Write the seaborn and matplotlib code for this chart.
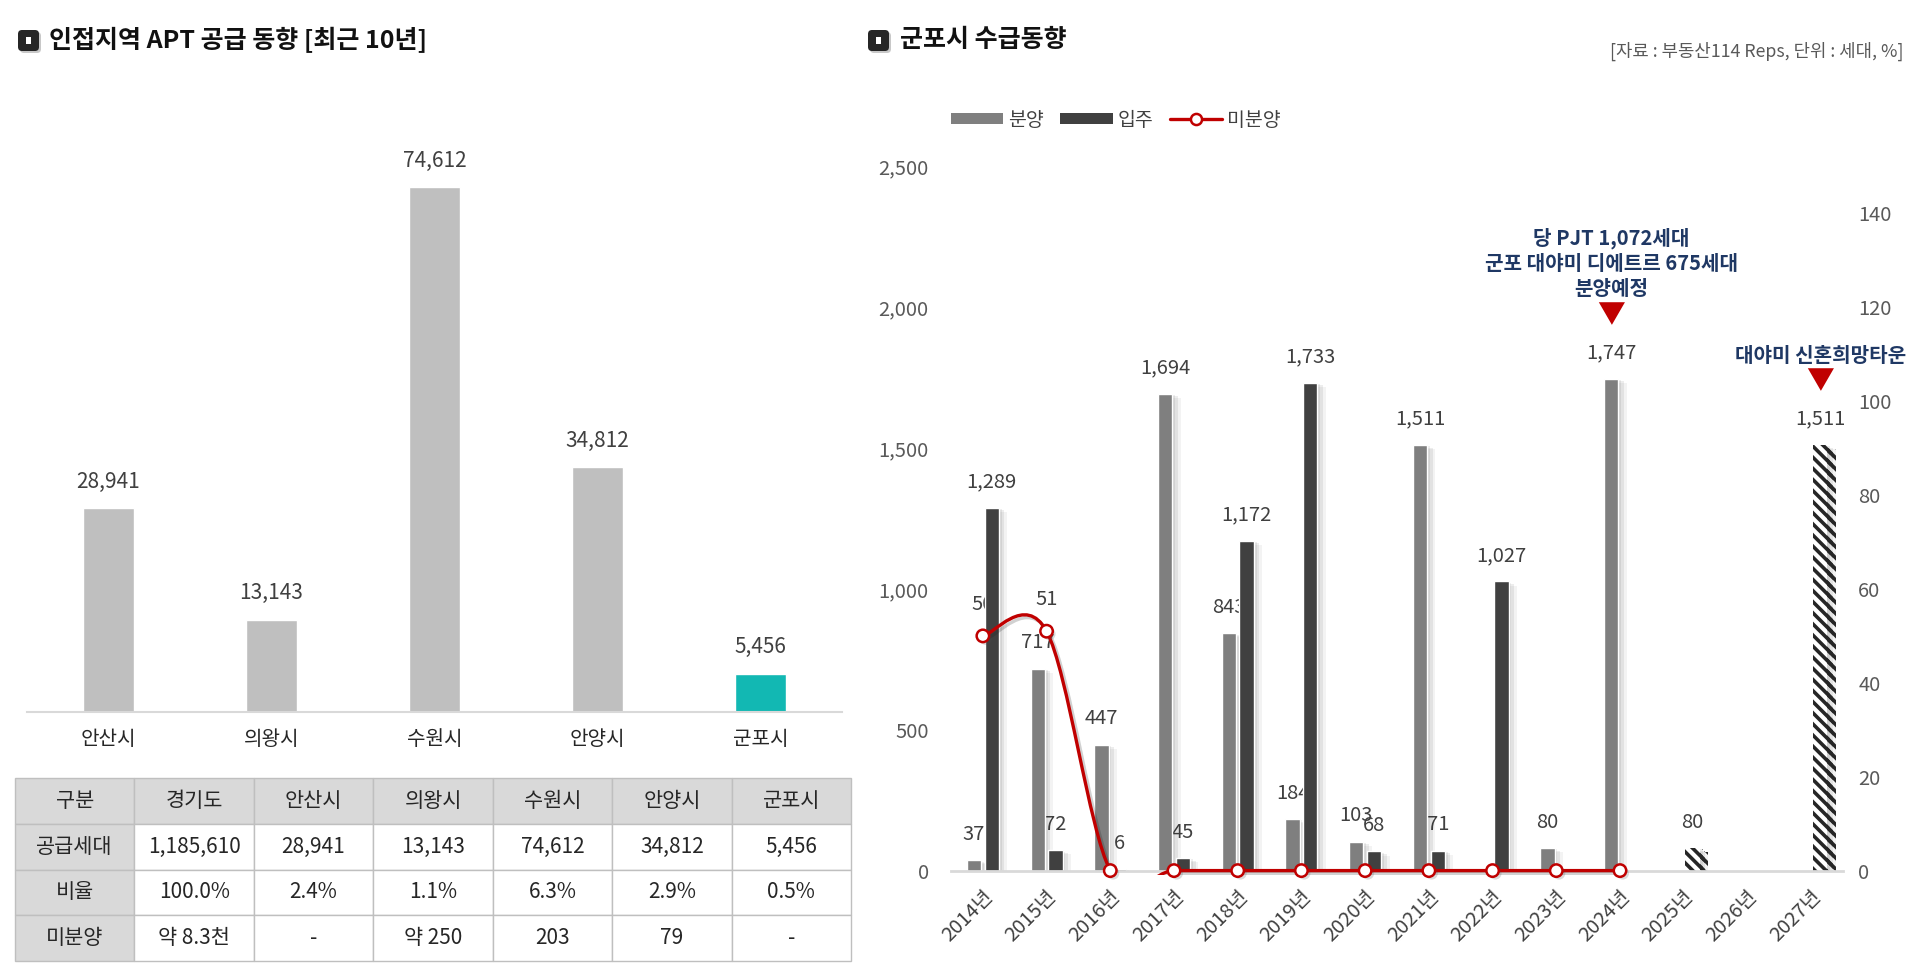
import matplotlib
matplotlib.use('Agg')
import matplotlib.pyplot as plt
import matplotlib.patheffects as pe
import matplotlib.transforms as mtransforms
from matplotlib.patches import FancyBboxPatch, Rectangle, Patch, PathPatch
from matplotlib.lines import Line2D
from matplotlib.path import Path
from matplotlib.ticker import FuncFormatter
import seaborn as sns
import pandas as pd
import numpy as np

# ---- 인접지역 APT 공급 (최근 10년) ----
cities = ['안산시', '의왕시', '수원시', '안양시', '군포시']
supply = [28941, 13143, 74612, 34812, 5456]
highlight_city = '군포시'

# ---- 표 ----
table_header = ['구분', '경기도', '안산시', '의왕시', '수원시', '안양시', '군포시']
row_supply = ['공급세대', '1,185,610', '28,941', '13,143', '74,612', '34,812', '5,456']
row_ratio = ['비율', '100.0%', '2.4%', '1.1%', '6.3%', '2.9%', '0.5%']
row_unsold = ['미분양', '약 8.3천', '-', '약 250', '203', '79', '-']

# ---- 군포시 수급동향 ----
years = ['2014년', '2015년', '2016년', '2017년', '2018년', '2019년', '2020년',
         '2021년', '2022년', '2023년', '2024년', '2025년', '2026년', '2027년']
sale = [37, 717, 447, 1694, 843, 184, 103, 1511, 0, 80, 1747, 0, 0, 0]          # 분양
move_in = [1289, 72, 6, 45, 1172, 1733, 68, 71, 1027, 0, 0, 80, 0, 1511]      # 입주
unsold = [50, 51, 0, 0, 0, 0, 0, 0, 0, 0, 0]                                   # 미분양 (2014~2024)
planned_years = ['2025년', '2027년']   # 입주 예정 (빗금)

note_2024 = '당 PJT 1,072세대\n군포 대야미 디에트르 675세대\n분양예정'
note_2027 = '대야미 신혼희망타운'

sns.set_theme(style='white')
plt.rcParams['font.family'] = ['Noto Sans CJK KR', 'DejaVu Sans']
plt.rcParams['hatch.linewidth'] = 2.6

W, H = 1920, 975
fig = plt.figure(figsize=(W / 100, H / 100), dpi=100)

def fx(px):
    return px / W

def fy(py):
    return 1 - py / H

# 제목 아이콘
def title_icon(x_px, y_px):
    x, y = x_px / 100, (H - y_px) / 100
    sh = FancyBboxPatch((x + 0.02, y - 0.23), 0.21, 0.21, boxstyle='round,pad=0,rounding_size=0.04',
                        transform=fig.dpi_scale_trans, facecolor='#c8c8c8', edgecolor='none')
    box = FancyBboxPatch((x, y - 0.21), 0.21, 0.21, boxstyle='round,pad=0,rounding_size=0.04',
                         transform=fig.dpi_scale_trans, facecolor='#262626', edgecolor='none')
    inner = Rectangle((x + 0.08, y - 0.14), 0.05, 0.07, transform=fig.dpi_scale_trans,
                      facecolor='white', edgecolor='none')
    fig.patches.extend([sh, box, inner])

title_icon(18, 30)
fig.text(fx(49), fy(40), '인접지역 APT 공급 동향 [최근 10년]', fontsize=18, fontweight='bold',
         va='center', ha='left', color='#111111')
title_icon(868, 30)
fig.text(fx(900), fy(40), '군포시 수급동향', fontsize=18, fontweight='bold',
         va='center', ha='left', color='#111111')
fig.text(fx(1904), fy(51), '[자료 : 부동산114 Reps, 단위 : 세대, %]', fontsize=12.8,
         va='center', ha='right', color='#595959')

# ---- 왼쪽 막대 ----
axL = fig.add_axes([fx(27), fy(712), fx(842) - fx(27), (712 - 114) / H])
pal = {c: ('#12b8b3' if c == highlight_city else '#bfbfbf') for c in cities}
sns.barplot(x=cities, y=supply, hue=cities, palette=pal, width=0.31, legend=False,
            saturation=1, ax=axL)
axL.set_xlim(-0.5, 4.5)
axL.set_ylim(0, 85000)
for cont in axL.containers:
    axL.bar_label(cont, labels=[f'{v:,.0f}' for v in cont.datavalues], padding=11,
                  fontsize=15, color='#404040')
axL.set_yticks([])
axL.tick_params(axis='x', length=0, pad=12, labelsize=14.5, labelcolor='#262626')
for s in ['left', 'right', 'top']:
    axL.spines[s].set_visible(False)
axL.spines['bottom'].set_color('#d9d9d9')
axL.spines['bottom'].set_linewidth(1.5)
axL.set_xlabel('')
axL.set_ylabel('')

# ---- 표 ----
axT = fig.add_axes([fx(15), fy(961), fx(851) - fx(15), (961 - 778) / H])
axT.axis('off')
tbl = axT.table(cellText=[row_supply, row_ratio, row_unsold], colLabels=table_header,
                cellLoc='center', bbox=[0, 0, 1, 1])
tbl.auto_set_font_size(False)
for (r, c), cell in tbl.get_celld().items():
    cell.set_edgecolor('#bfbfbf')
    cell.set_linewidth(1)
    cell.set_facecolor('#d9d9d9' if (r == 0 or c == 0) else 'white')
    cell.get_text().set_fontsize(15)
    cell.get_text().set_color('#262626')

# ---- 오른쪽: 군포시 수급동향 ----
df = pd.DataFrame({'year': years * 2,
                   'kind': ['분양'] * len(years) + ['입주'] * len(years),
                   'value': sale + move_in})
ax = fig.add_axes([fx(951), fy(870.6), fx(1843) - fx(951), (870.6 - 166.5) / H])
sns.barplot(data=df, x='year', y='value', hue='kind',
            palette={'분양': '#7f7f7f', '입주': '#404040'}, width=0.56, gap=0.2,
            saturation=1, legend=False, ax=ax, zorder=2)
shadow = [pe.SimplePatchShadow(offset=(2, -1), shadow_rgbFace='k', alpha=0.08),
          pe.SimplePatchShadow(offset=(4, -2), shadow_rgbFace='k', alpha=0.08),
          pe.SimplePatchShadow(offset=(6, -3), shadow_rgbFace='k', alpha=0.05), pe.Normal()]
for p in ax.patches:
    p.set_path_effects(shadow)
for i, y in enumerate(years):
    if y in planned_years:
        p = ax.containers[1][i]
        p.set_facecolor('white')
        p.set_edgecolor('#262626')
        p.set_linewidth(0)
        p.set_hatch('\\\\\\')

for cont, vals in zip(ax.containers, [sale, move_in]):
    ax.bar_label(cont, labels=[f'{v:,}' if v else '' for v in vals], padding=11,
                 fontsize=14.5, color='#404040', zorder=1)

ax.set_xlim(-0.5, len(years) - 0.5)
ax.set_ylim(0, 2500)
ax.set_yticks(range(0, 2501, 500))
ax.yaxis.set_major_formatter(FuncFormatter(lambda v, p: f'{v:,.0f}'))
ax.tick_params(axis='y', length=0, pad=16, labelsize=14.5, labelcolor='#595959')
ax.tick_params(axis='x', length=0, pad=17, labelsize=14.5, labelcolor='#404040')
shift = mtransforms.ScaledTranslation(0.07, 0, fig.dpi_scale_trans)
for lbl in ax.get_xticklabels():
    lbl.set_rotation(45)
    lbl.set_ha('right')
    lbl.set_va('center')
    lbl.set_rotation_mode('anchor')
    lbl.set_transform(lbl.get_transform() + shift)
for s in ['left', 'right', 'top']:
    ax.spines[s].set_visible(False)
ax.spines['bottom'].set_color('#d9d9d9')
ax.spines['bottom'].set_linewidth(2)
ax.set_xlabel('')
ax.set_ylabel('')

ax2 = ax.twinx()
xpos = np.arange(len(unsold))
pts = np.column_stack([xpos, np.array(unsold, float)])
ext = np.vstack([pts[0], pts, pts[-1]])
verts, codes = [pts[0]], [Path.MOVETO]
for i in range(len(pts) - 1):
    p0, p1, p2, p3 = ext[i], ext[i + 1], ext[i + 2], ext[i + 3]
    verts += [p1 + (p2 - p0) / 6, p2 - (p3 - p1) / 6, p2]
    codes += [Path.CURVE4] * 3
curve = PathPatch(Path(verts, codes), fill=False, edgecolor='#c00000', lw=2.4, zorder=3,
                  path_effects=[pe.SimpleLineShadow(offset=(2, -2), shadow_color='k', alpha=0.2),
                                pe.Normal()])
ax2.add_patch(curve)
clip = Rectangle((0, -0.006), 1, 1.012, transform=ax2.transAxes, facecolor='none', edgecolor='none')
ax2.add_patch(clip)
curve.set_clip_path(clip)
sns.scatterplot(x=xpos, y=unsold, ax=ax2, s=80, color='white', edgecolor='#c00000',
                linewidth=1.8, zorder=4, clip_on=False,
                path_effects=[pe.SimplePatchShadow(offset=(2, -2), alpha=0.2), pe.Normal()])
for i, v in enumerate(unsold):
    if v:
        ax.annotate(f'{v}', xy=(i, v), xycoords=ax2.transData, xytext=(0, 15),
                    textcoords='offset points', ha='center', va='bottom',
                    fontsize=14.5, color='#404040', zorder=1)
ax2.set_xlim(-0.5, len(years) - 0.5)
ax2.set_ylim(0, 150)
ax2.set_yticks(range(0, 141, 20))
ax2.tick_params(axis='y', length=0, pad=11, labelsize=14.5, labelcolor='#595959')
for s in ax2.spines.values():
    s.set_visible(False)
ax2.set_xlabel('')
ax2.set_ylabel('')

# 주석
def note(patch, text):
    x = patch.get_x() + patch.get_width() / 2
    y = patch.get_height()
    ax2.annotate('▼', xy=(x, y), xycoords=ax.transData, xytext=(0, 46), textcoords='offset points',
                 ha='center', va='center', fontsize=20, color='#c00000', annotation_clip=False)
    ax2.annotate(text, xy=(x, y), xycoords=ax.transData, xytext=(0, 57), textcoords='offset points',
                 ha='center', va='bottom', fontsize=14.5, fontweight='bold', color='#1f3864',
                 linespacing=1.25, annotation_clip=False)

note(ax.containers[0][years.index('2024년')], note_2024)
note(ax.containers[1][years.index('2027년')], note_2027)

handles = [Patch(facecolor='#7f7f7f', edgecolor='none', label='분양'),
           Patch(facecolor='#404040', edgecolor='none', label='입주'),
           Line2D([], [], color='#c00000', lw=2.4, marker='o', markersize=8,
                  markerfacecolor='white', markeredgecolor='#c00000', markeredgewidth=1.8,
                  label='미분양')]
fig.legend(handles=handles, loc='center left', bbox_to_anchor=(fx(933), fy(120)), ncol=3,
           frameon=False, fontsize=14, handlelength=2.7, handleheight=0.55,
           handletextpad=0.25, columnspacing=0.85, labelcolor='#404040')

fig.savefig('out.png', dpi=100)
